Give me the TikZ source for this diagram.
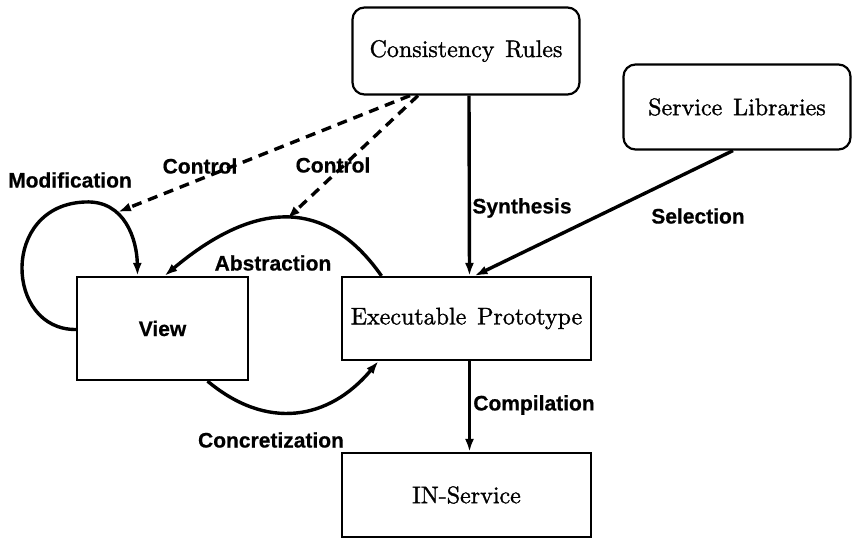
\documentclass[tikz,border=0pt]{standalone}
\usepackage{fontspec}
\newfontfamily\labfont{Liberation Sans}[FakeBold=0.6]
\newfontfamily\boxfont{lmroman10-regular.otf}[FakeBold=1.2]
\usetikzlibrary{arrows.meta,calc}
\begin{document}
\begin{tikzpicture}[x=1pt,y=-1pt,
  box/.style={draw,line width=2.2pt,minimum width=#1,inner sep=0pt,font=\boxfont\fontsize{24}{28}\selectfont},
  rbox/.style={box=#1,rounded corners=12pt},
  lab/.style={font=\labfont\bfseries\fontsize{21}{24}\selectfont,inner sep=0pt},
  arr/.style={line width=3.4pt,-{Latex[length=13pt,width=9pt]}},
  darr/.style={arr,dash pattern=on 10pt off 7pt}]
\useasboundingbox (0,0) rectangle (852,538);
\node[rbox=227pt,minimum height=87pt] (cr) at (466,51) {Consistency\hspace{0.45em}Rules};
\node[rbox=227pt,minimum height=85pt] (sl) at (737,107) {Service\hspace{0.45em}Libraries};
\node[box=171pt,minimum height=103pt] (view) at (162.5,328.5) {\labfont\bfseries\fontsize{21}{24}\selectfont View};
\node[box=249pt,minimum height=83pt] (ep) at (466.5,318.5) {Executable\hspace{0.45em}Prototype};
\node[box=249pt,minimum height=84pt] (in) at (466.5,495) {IN-Service};
% solid arrows
\draw[arr] ([xshift=3]cr.south) -- ([xshift=3]ep.north);
\draw[arr] ([xshift=3]ep.south) -- ([xshift=3]in.north);
\draw[arr] ([xshift=-4]sl.south) -- ([xshift=8]ep.north);
% modification loop
\draw[arr] ([yshift=-1]view.west) .. controls (5,330) and (0,205) .. (85,202)
   .. controls (125,200) and (137,240) .. ([xshift=-25]view.north);
\coordinate (modend) at (118,212);
% abstraction
\draw[arr] ([xshift=-85]ep.north) to[out=125,in=40,looseness=1.25] coordinate[pos=0.47] (abstop) ([xshift=2]view.north);
% concretization
\draw[arr] ([xshift=45]view.south) to[out=-40,in=230,looseness=1.15] ([xshift=-88]ep.south);
% control dashed
\draw[darr] ([xshift=-56]cr.south) -- (modend);
\draw[darr] ([xshift=-48]cr.south) -- ([yshift=-1]abstop);
% labels
\node[lab] (lmod) at (70,180) {Modification};
\node[lab] (lc1) at (200,166) {Control};
\node[lab] (lc2) at (333,165) {Control};
\node[lab] (lsyn) at (522,208) {Synthesis};
\node[lab] (lsel) at (698,216) {Selection};
\node[lab] (labs) at (273,263) {Abstraction};
\node[lab] (lcon) at (271,440) {Concretization};
\node[lab] (lcomp) at (534,405) {Compilation};
\end{tikzpicture}
\end{document}
